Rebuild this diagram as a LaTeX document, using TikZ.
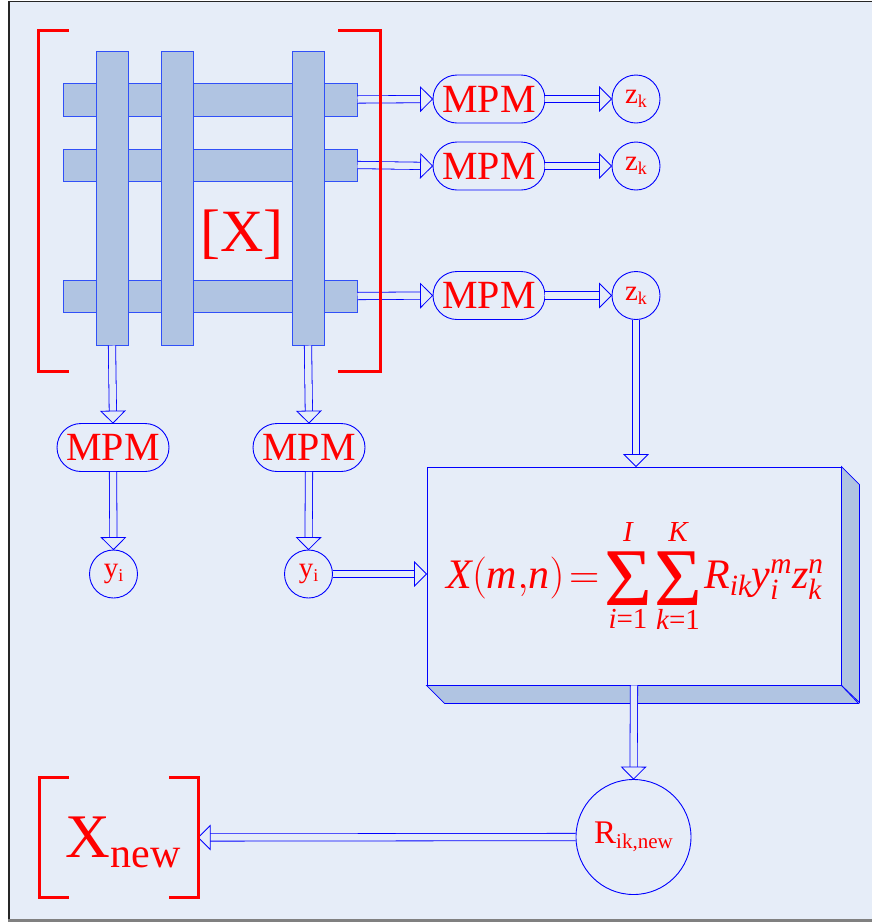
\documentclass[tikz,border=0pt]{standalone}
\usepackage{fix-cm}
\usepackage{amsmath}
\usepackage{fontspec}
\setmainfont{Liberation Serif}
\usetikzlibrary{decorations.markings}
\definecolor{bgc}{HTML}{E6EDF8}
\definecolor{barc}{HTML}{B0C4E2}
\definecolor{lnc}{HTML}{0000FF}
\definecolor{barln}{HTML}{3050F8}
\definecolor{redc}{HTML}{FF0000}
\newcommand\mi[1]{\textit{#1}}
\newcommand\bigsig{\mathop{\vcenter{\hbox{\fontsize{82}{82}\selectfont Σ}}}\limits}
\newcommand\sumlims[2]{_{\raisebox{-5pt}{\fontsize{29}{29}\selectfont#1}}^{\raisebox{5pt}{\fontsize{29}{29}\selectfont#2}}}
\tikzset{
  bar/.style={draw=barln, fill=barc, line width=1pt, inner sep=0pt},
  mpm/.style={draw=lnc, line width=0.9pt, rounded corners=24pt, minimum width=112pt, minimum height=48pt, inner sep=0pt, text=redc, font=\fontsize{40}{40}\selectfont},
  var/.style={draw=lnc, circle, line width=0.9pt, minimum size=48pt, inner sep=0pt, text=redc, font=\fontsize{29}{29}\selectfont},
  brk/.style={draw=redc, line width=2.8pt, line join=miter},
  harrow/.style={
    postaction={draw=lnc, line width=0.8pt, double=bgc, double distance=6.5pt, shorten >=12pt},
    postaction={decorate, decoration={markings, mark=at position 1 with {
      \draw[lnc, line width=0.8pt, fill=bgc, line join=miter] (0pt,0pt) -- (-12pt,12pt) -- (-12pt,-12pt) -- cycle;}}}},
}
\begin{document}
\begin{tikzpicture}[x=1pt,y=-1pt]
\useasboundingbox (0,0) rectangle (872,922);
\fill[white] (0,0) rectangle (872,922);
\fill[bgc] (9,1) rectangle (872,920);
\draw[black!85, line width=1.2pt] (9,920) -- (9,1.2) -- (872,1.2);
\draw[black!50, line width=2.2pt] (8.4,920.5) -- (872,920.5);
% horizontal bars
\node[bar, minimum width=294pt, minimum height=33pt] (h1) at (210,99.5) {};
\node[bar, minimum width=294pt, minimum height=32pt] (h2) at (210,165) {};
\node[bar, minimum width=294pt, minimum height=32pt] (h3) at (210,296) {};
% vertical bars
\node[bar, minimum width=32pt, minimum height=294pt] (v1) at (112,198) {};
\node[bar, minimum width=32pt, minimum height=294pt] (v2) at (177,198) {};
\node[bar, minimum width=32pt, minimum height=294pt] (v3) at (308,198) {};
% label
\node[text=redc, font=\fontsize{60}{60}\selectfont, inner sep=0pt] (xlab) at (242,235) {[X]};
% MPM right
\node[mpm] (m1) at (489,99) {MPM};
\node[mpm] (m2) at (489,166) {MPM};
\node[mpm] (m3) at (489,295.5) {MPM};
\node[var] (z1) at (636,99) {z\raisebox{-4pt}{\fontsize{18}{18}\selectfont k}};
\node[var] (z2) at (636,166) {z\raisebox{-4pt}{\fontsize{18}{18}\selectfont k}};
\node[var] (z3) at (636,295.5) {z\raisebox{-4pt}{\fontsize{18}{18}\selectfont k}};
% MPM bottom
\node[mpm] (mb1) at (113,447.5) {MPM};
\node[mpm] (mb2) at (309,447.5) {MPM};
\node[var] (yi1) at (113.5,574) {y\raisebox{-4pt}{\fontsize{18}{18}\selectfont i}};
\node[var] (yi2) at (308.5,574) {y\raisebox{-4pt}{\fontsize{18}{18}\selectfont i}};
% box
\node[draw=lnc, line width=0.9pt, minimum width=414pt, minimum height=218pt, inner sep=0pt] (box) at (634,576) {};
\draw[lnc, fill=barc, line width=0.8pt, line join=miter] (box.north east) -- ++(18,18) -- ++(0,218) -- (box.south east) -- cycle;
\draw[lnc, fill=barc, line width=0.8pt, line join=miter] (box.south west) -- ++(18,18) -- ++(414,0) -- (box.south east) -- cycle;
\node[text=redc, font=\fontsize{42}{42}\selectfont, inner sep=0pt] (fml) at (635,576) {\thickmuskip=2mu\thinmuskip=1mu$\mi{X}(\mi{m}{,}\mi{n})=\bigsig\sumlims{\itshape i\upshape=1}{\itshape I}\bigsig\sumlims{\itshape k\upshape=1}{\itshape K}\mi{R}_{\mi{ik}}\mi{y}_{\mi{i}}^{\mi{m}}\mi{z}_{\mi{k}}^{\mi{n}}$};
% R node
\node[draw=lnc, circle, line width=0.9pt, minimum size=115pt, inner sep=0pt, text=redc, font=\fontsize{33}{33}\selectfont] (rik) at (633.5,837) {R\raisebox{-5pt}{\fontsize{21}{21}\selectfont ik,new}};
% Xnew
\node[minimum width=158pt, minimum height=119pt, inner sep=0pt] (xnew) at (119,837.5) {};
\node[text=redc, inner sep=0pt, font=\fontsize{62}{62}\selectfont] (xnewlab) at (123,842) {X\raisebox{-10pt}{\fontsize{42}{42}\selectfont new}};
% big bracket frame
\node[minimum width=341pt, minimum height=340pt, inner sep=0pt] (xmat) at (209.5,201) {};
% arrows
\path[harrow] (h1.east) -- (m1.west);
\path[harrow] (h2.east) -- (m2.west);
\path[harrow] (h3.east) -- (m3.west);
\path[harrow] (m1.east) -- (z1.west);
\path[harrow] (m2.east) -- (z2.west);
\path[harrow] (m3.east) -- (z3.west);
\path[harrow] (v1.south) -- (mb1.north);
\path[harrow] (v3.south) -- (mb2.north);
\path[harrow] (mb1.south) -- (yi1.north);
\path[harrow] (mb2.south) -- (yi2.north);
\path[harrow] (yi2.east) -- (yi2.east -| box.west);
\path[harrow] (z3.south) -- (z3.south |- box.north);
\path[harrow] (box.south) -- (rik.north);
\path[harrow] (rik.west) -- (xnew.east);
% brackets
\draw[brk] ([xshift=30pt]xmat.north west) -- (xmat.north west) -- (xmat.south west) -- ([xshift=30pt]xmat.south west);
\draw[brk] ([xshift=-42pt]xmat.north east) -- (xmat.north east) -- (xmat.south east) -- ([xshift=-42pt]xmat.south east);
\draw[brk] ([xshift=29pt]xnew.north west) -- (xnew.north west) -- (xnew.south west) -- ([xshift=29pt]xnew.south west);
\draw[brk] ([xshift=-29pt]xnew.north east) -- (xnew.north east) -- (xnew.south east) -- ([xshift=-29pt]xnew.south east);
\end{tikzpicture}
\end{document}
